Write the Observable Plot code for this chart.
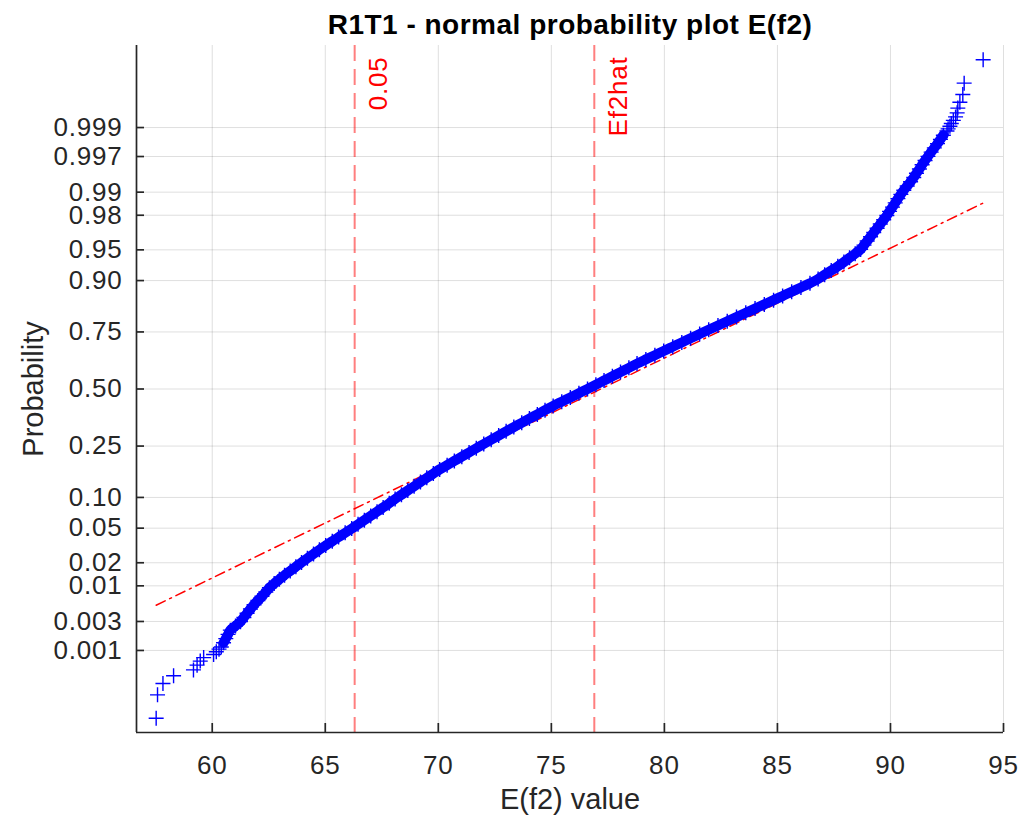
<!DOCTYPE html>
<html>
<head>
<meta charset="utf-8">
<script src="https://cdn.jsdelivr.net/npm/d3@7"></script>
<script src="https://cdn.jsdelivr.net/npm/@observablehq/plot@0.6"></script>
<style>
  html, body { margin: 0; padding: 0; background: #ffffff; }
  #chart { width: 1031px; height: 816px; }
  svg { font-family: "Liberation Sans", Arial, Helvetica, sans-serif; }
</style>
</head>
<body>
<div id="chart"></div>
<script>
// ---------------- data ----------------
const chartTitle = "R1T1 - normal probability plot E(f2)";
const xLabel = "E(f2) value";
const yLabel = "Probability";

const xTicks = [60, 65, 70, 75, 80, 85, 90, 95];
const probTicks = [0.001, 0.003, 0.01, 0.02, 0.05, 0.10, 0.25, 0.50, 0.75, 0.90, 0.95, 0.98, 0.99, 0.997, 0.999];
const probTickLabels = ["0.001", "0.003", "0.01", "0.02", "0.05", "0.10", "0.25", "0.50", "0.75", "0.90", "0.95", "0.98", "0.99", "0.997", "0.999"];

// sample points: normal quantile (plotting position) and E(f2) value
const sampleQuantile = [
  -3.891, -3.615, -3.481, -3.390, -3.320, -3.264, -3.216, -3.175, -3.138, -3.105, -3.075, -3.049,
  -3.00, -2.95, -2.90, -2.85, -2.80, -2.75, -2.70, -2.65, -2.60, -2.55, -2.50, -2.45, -2.40, -2.35,
  -2.30, -2.25, -2.20, -2.15, -2.10, -2.05, -2.00, -1.95, -1.90, -1.85, -1.80, -1.75, -1.70, -1.65,
  -1.60, -1.55, -1.50, -1.45, -1.40, -1.35, -1.30, -1.25, -1.20, -1.15, -1.10, -1.05, -1.00, -0.95,
  -0.90, -0.85, -0.80, -0.75, -0.70, -0.65, -0.60, -0.55, -0.50, -0.45, -0.40, -0.35, -0.30, -0.25,
  -0.20, -0.15, -0.10, -0.05, 0.00, 0.05, 0.10, 0.15, 0.20, 0.25, 0.30, 0.35, 0.40, 0.45, 0.50, 0.55,
  0.60, 0.65, 0.70, 0.75, 0.80, 0.85, 0.90, 0.95, 1.00, 1.05, 1.10, 1.15, 1.20, 1.25, 1.30, 1.35,
  1.40, 1.45, 1.50, 1.55, 1.60, 1.65, 1.70, 1.75, 1.80, 1.85, 1.90, 1.95, 2.00, 2.05, 2.10, 2.15,
  2.20, 2.25, 2.30, 2.35, 2.40, 2.45, 2.50, 2.55, 2.60, 2.65, 2.70, 2.75, 2.80, 2.85, 2.90, 2.95, 3.00,
  3.049, 3.075, 3.105, 3.138, 3.175, 3.216, 3.264, 3.320, 3.390, 3.481, 3.615, 3.891
];
const sampleValue = [
  57.52, 57.58, 57.82, 58.29, 59.17, 59.33, 59.47, 59.62, 60.06, 60.18, 60.30, 60.40,
  60.50, 60.60, 60.70, 60.80, 61.03, 61.25, 61.40, 61.54, 61.69, 61.85, 62.02, 62.20, 62.37, 62.53,
  62.74, 62.97, 63.20, 63.45, 63.70, 63.95, 64.21, 64.48, 64.74, 65.02, 65.31, 65.59, 65.88, 66.17,
  66.45, 66.73, 67.01, 67.29, 67.56, 67.83, 68.09, 68.37, 68.65, 68.93, 69.21, 69.49, 69.78, 70.06,
  70.39, 70.71, 71.04, 71.36, 71.68, 72.01, 72.34, 72.67, 73.00, 73.34, 73.69, 74.03, 74.38, 74.72,
  75.08, 75.46, 75.84, 76.22, 76.60, 76.97, 77.33, 77.70, 78.06, 78.43, 78.79, 79.18, 79.58, 79.97, 80.37, 80.77,
  81.16, 81.56, 81.96, 82.37, 82.78, 83.19, 83.60, 84.01, 84.42, 84.83, 85.23, 85.63, 86.04, 86.44, 86.80, 87.09,
  87.38, 87.67, 87.94, 88.19, 88.44, 88.68, 88.83, 88.97, 89.12, 89.26, 89.41, 89.55, 89.70, 89.84, 89.96, 90.09,
  90.21, 90.33, 90.46, 90.59, 90.74, 90.89, 91.03, 91.15, 91.28, 91.40, 91.53, 91.66, 91.80, 91.94, 92.08, 92.21, 92.34,
  92.50, 92.55, 92.63, 92.69, 92.78, 92.88, 92.95, 92.98, 93.07, 93.20, 93.26, 94.10
];

// fitted reference line (end points)
const refLineValue = [57.52, 94.10];
const refLineQuantile = [-2.556, 2.198];

// vertical markers
const markerNames = ["0.05", "Ef2hat"];
const markerValues = [66.3, 76.9];

const xDomain = [56.65, 95];
const yDomain = [-4.06, 4.06];

// ---------------- helpers ----------------
function norminv(p) {
  const a = [-3.969683028665376e+01, 2.209460984245205e+02, -2.759285104469687e+02, 1.383577518672690e+02, -3.066479806614716e+01, 2.506628277459239e+00];
  const b = [-5.447609879822406e+01, 1.615858368580409e+02, -1.556989798598866e+02, 6.680131188771972e+01, -1.328068155288572e+01];
  const c = [-7.784894002430293e-03, -3.223964580411365e-01, -2.400758277161838e+00, -2.549732539343734e+00, 4.374664141464968e+00, 2.938163982698783e+00];
  const d = [7.784695709041462e-03, 3.224671290700398e-01, 2.445134137142996e+00, 3.754408661907416e+00];
  const pl = 0.02425, ph = 1 - pl;
  let q, r;
  if (p < pl) {
    q = Math.sqrt(-2 * Math.log(p));
    return (((((c[0]*q+c[1])*q+c[2])*q+c[3])*q+c[4])*q+c[5]) / ((((d[0]*q+d[1])*q+d[2])*q+d[3])*q+1);
  } else if (p <= ph) {
    q = p - 0.5; r = q * q;
    return (((((a[0]*r+a[1])*r+a[2])*r+a[3])*r+a[4])*r+a[5])*q / (((((b[0]*r+b[1])*r+b[2])*r+b[3])*r+b[4])*r+1);
  } else {
    q = Math.sqrt(-2 * Math.log(1 - p));
    return -(((((c[0]*q+c[1])*q+c[2])*q+c[3])*q+c[4])*q+c[5]) / ((((d[0]*q+d[1])*q+d[2])*q+d[3])*q+1);
  }
}

const tickZ = probTicks.map(norminv);
const yTicks = tickZ.map((z, i) => ({z, label: probTickLabels[i]}));
const points = sampleValue.map((v, i) => ({x: v, z: sampleQuantile[i]}));
const bodyPoints = points.filter(d => Math.abs(d.z) <= 3.0);
const refLine = refLineValue.map((v, i) => ({x: v, z: refLineQuantile[i]}));
const markers = markerValues.map((v, i) => ({x: v, name: markerNames[i]}));

const plusSymbol = {
  draw(context, size) {
    const h = Math.sqrt(size / Math.PI);
    context.moveTo(-h, 0); context.lineTo(h, 0);
    context.moveTo(0, -h); context.lineTo(0, h);
  }
};

const FONT = "Liberation Sans, Arial, Helvetica, sans-serif";
const AX = "#262626";
const W = 1031, H = 816, ML = 136, MR = 28, MT = 45, MB = 84;
const frameW = W - ML - MR, frameH = H - MT - MB;

const chart = Plot.plot({
  width: W,
  height: H,
  marginLeft: ML,
  marginRight: MR,
  marginTop: MT,
  marginBottom: MB,
  style: {fontFamily: FONT, background: "#ffffff", overflow: "visible"},
  x: {domain: xDomain, axis: null},
  y: {domain: yDomain, axis: null},
  marks: [
    Plot.gridX(xTicks, {stroke: AX, strokeOpacity: 0.15, strokeWidth: 1}),
    Plot.gridY(tickZ, {stroke: AX, strokeOpacity: 0.15, strokeWidth: 1}),
    Plot.ruleX(markers, {x: "x", stroke: "#ff0000", strokeOpacity: 0.5, strokeWidth: 2, strokeDasharray: "16,8"}),
    Plot.line(refLine, {x: "x", y: "z", stroke: "#ff0000", strokeWidth: 1.5, strokeDasharray: "10,5,2,5"}),
    Plot.line(bodyPoints, {x: "x", y: "z", stroke: "#0000ff", strokeWidth: 10, strokeLinecap: "round", strokeLinejoin: "round", curve: "catmull-rom"}),
    Plot.dot(points, {x: "x", y: "z", symbol: plusSymbol, r: 7.5, stroke: "#0000ff", fill: "none", strokeWidth: 1.4}),
    Plot.text(markers, {x: "x", text: "name", frameAnchor: "top", rotate: -90, textAnchor: "end", lineAnchor: "middle", dx: 24, dy: 11, fill: "#ff0000", fontSize: 26}),
    // axis lines
    Plot.ruleX([xDomain[0]], {stroke: AX, strokeWidth: 1.7}),
    Plot.ruleY([yDomain[0]], {stroke: AX, strokeWidth: 1.7}),
    // inward ticks
    Plot.tickX(xTicks, {x: d => d, insetTop: frameH - 9, stroke: AX, strokeWidth: 1.7}),
    Plot.tickY(yTicks, {y: "z", insetRight: frameW - 8, stroke: AX, strokeWidth: 1.7}),
    // tick labels
    Plot.text(xTicks, {x: d => d, text: d => String(d), frameAnchor: "bottom", textAnchor: "middle", lineAnchor: "top", dy: 23, fontSize: 26, fill: AX}),
    Plot.text(yTicks, {y: "z", text: "label", frameAnchor: "left", textAnchor: "end", lineAnchor: "middle", dx: -14, fontSize: 26, fill: AX}),
    // title & labels
    Plot.text([chartTitle], {frameAnchor: "top", textAnchor: "middle", lineAnchor: "middle", dy: -20, fontSize: 28, fontWeight: "bold", fill: "#000000"}),
    Plot.text([yLabel], {frameAnchor: "left", textAnchor: "middle", lineAnchor: "middle", dx: -103, rotate: -90, fontSize: 29, fill: AX}),
    Plot.text([xLabel], {frameAnchor: "bottom", textAnchor: "middle", lineAnchor: "middle", dy: 67, fontSize: 29, fill: AX})
  ]
});
document.getElementById("chart").appendChild(chart);
const spaced = new Set([...probTickLabels, ...xTicks.map(String), ...markerNames]);
d3.select(chart).selectAll("text")
  .filter(function() { return spaced.has(this.textContent); })
  .attr("letter-spacing", "0.8").style("letter-spacing", "0.8px");
d3.select(chart).selectAll("text")
  .filter(function() { return this.textContent === chartTitle; })
  .attr("letter-spacing", "0.5").style("letter-spacing", "0.5px");
</script>
</body>
</html>
